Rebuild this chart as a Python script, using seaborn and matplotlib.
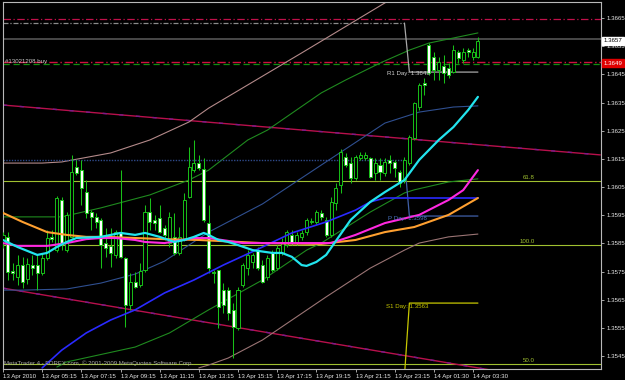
import numpy as np
import pandas as pd
import matplotlib
matplotlib.use("Agg")
import matplotlib.pyplot as plt
import seaborn as sns
from matplotlib.transforms import blended_transform_factory

# ---------------- data (EURUSD M15, 13-14 Apr 2010) ----------------
opens = [1.35851, 1.35873, 1.35752, 1.35731, 1.35773, 1.35724, 1.35773, 1.35773, 1.35745, 1.35798,
         1.35873, 1.35826, 1.36004, 1.35826, 1.35873, 1.36121, 1.36110, 1.36032, 1.35961, 1.35944,
         1.35933, 1.35851, 1.35841, 1.35809, 1.35890, 1.35798, 1.35631, 1.35713, 1.35702, 1.35755,
         1.35961, 1.35933, 1.35940, 1.35905, 1.35851, 1.35873, 1.35816, 1.35862, 1.36015, 1.36110,
         1.36135, 1.36114, 1.35922, 1.35748, 1.35755, 1.35684, 1.35684, 1.35614, 1.35549, 1.35702,
         1.35763, 1.35784, 1.35826, 1.35773, 1.35731, 1.35816, 1.35763, 1.35816, 1.35844, 1.35880,
         1.35851, 1.35873, 1.35890, 1.35926, 1.35926, 1.35958, 1.35933, 1.35880, 1.35993, 1.36057,
         1.36157, 1.36135, 1.36082, 1.36153, 1.36153, 1.36153, 1.36100, 1.36128, 1.36100, 1.36146,
         1.36139, 1.36103, 1.36075, 1.36135, 1.36224, 1.36334, 1.36419, 1.36554, 1.36512, 1.36465,
         1.36480, 1.36473, 1.36458, 1.36529, 1.36501, 1.36536, 1.36512, 1.36512]
highs = [1.35890, 1.35890, 1.35780, 1.35809, 1.35802, 1.35798, 1.35809, 1.35809, 1.35816, 1.35897,
         1.35897, 1.36018, 1.36015, 1.35961, 1.36164, 1.36146, 1.36146, 1.36075, 1.35969, 1.35958,
         1.35940, 1.35905, 1.35905, 1.35897, 1.36110, 1.35802, 1.35745, 1.35748, 1.35780, 1.35986,
         1.36011, 1.35951, 1.35986, 1.35915, 1.35961, 1.35958, 1.35908, 1.36029, 1.36192, 1.36217,
         1.36164, 1.36153, 1.35986, 1.35755, 1.35755, 1.35710, 1.35695, 1.35638, 1.35695, 1.35780,
         1.35826, 1.35816, 1.35837, 1.35791, 1.35809, 1.35826, 1.35844, 1.35869, 1.35897, 1.35897,
         1.35890, 1.35897, 1.35940, 1.35940, 1.35969, 1.35969, 1.35944, 1.36015, 1.36064, 1.36185,
         1.36171, 1.36157, 1.36164, 1.36174, 1.36174, 1.36157, 1.36153, 1.36153, 1.36153, 1.36164,
         1.36146, 1.36110, 1.36157, 1.36235, 1.36352, 1.36419, 1.36437, 1.36561, 1.36529, 1.36512,
         1.36519, 1.36490, 1.36554, 1.36536, 1.36544, 1.36544, 1.36544, 1.36583]
lows = [1.35834, 1.35720, 1.35720, 1.35702, 1.35692, 1.35706, 1.35738, 1.35684, 1.35738, 1.35791,
        1.35855, 1.35819, 1.35826, 1.35819, 1.35869, 1.36093, 1.35986, 1.35940, 1.35897, 1.35905,
        1.35763, 1.35802, 1.35766, 1.35798, 1.35798, 1.35553, 1.35614, 1.35692, 1.35695, 1.35748,
        1.35897, 1.35897, 1.35887, 1.35862, 1.35837, 1.35809, 1.35809, 1.35858, 1.36011, 1.36103,
        1.36110, 1.35926, 1.35745, 1.35710, 1.35549, 1.35603, 1.35578, 1.35443, 1.35542, 1.35695,
        1.35738, 1.35763, 1.35755, 1.35710, 1.35720, 1.35748, 1.35755, 1.35809, 1.35837, 1.35844,
        1.35844, 1.35862, 1.35880, 1.35919, 1.35919, 1.35933, 1.35873, 1.35873, 1.35969, 1.36029,
        1.36121, 1.36064, 1.36075, 1.36146, 1.36146, 1.36082, 1.36075, 1.36075, 1.36089, 1.36100,
        1.36086, 1.36050, 1.36064, 1.36128, 1.36217, 1.36323, 1.36377, 1.36448, 1.36430, 1.36430,
        1.36419, 1.36437, 1.36455, 1.36490, 1.36490, 1.36512, 1.36501, 1.36508]
closes = [1.35880, 1.35748, 1.35745, 1.35773, 1.35713, 1.35777, 1.35763, 1.35745, 1.35798, 1.35869,
          1.35865, 1.36011, 1.35851, 1.35951, 1.36103, 1.36100, 1.36047, 1.35958, 1.35944, 1.35926,
          1.35844, 1.35834, 1.35816, 1.35890, 1.35802, 1.35631, 1.35713, 1.35695, 1.35752, 1.35961,
          1.35926, 1.35922, 1.35890, 1.35880, 1.35944, 1.35816, 1.35873, 1.36004, 1.36121, 1.36135,
          1.36118, 1.35933, 1.35763, 1.35745, 1.35624, 1.35631, 1.35603, 1.35553, 1.35684, 1.35773,
          1.35809, 1.35809, 1.35763, 1.35713, 1.35798, 1.35755, 1.35834, 1.35855, 1.35890, 1.35855,
          1.35880, 1.35887, 1.35933, 1.35930, 1.35961, 1.35944, 1.35880, 1.35997, 1.36047, 1.36174,
          1.36128, 1.36082, 1.36157, 1.36164, 1.36164, 1.36086, 1.36135, 1.36103, 1.36139, 1.36135,
          1.36118, 1.36064, 1.36146, 1.36228, 1.36348, 1.36412, 1.36412, 1.36455, 1.36465, 1.36494,
          1.36455, 1.36448, 1.36536, 1.36508, 1.36529, 1.36529, 1.36529, 1.36570]

# indicator readings: (bar index, price)
cyan_bar = [0, 3, 7, 9, 11, 13, 15, 20, 24, 27, 29, 32, 35, 37, 39, 41, 42, 44, 46, 48, 51, 55, 57, 59,
            61, 62, 64, 66, 67, 71, 75, 78, 82, 85, 89, 92, 95, 97]
cyan_val = [1.35862, 1.35837, 1.35809, 1.35816, 1.35837, 1.35855, 1.35869, 1.35873, 1.35887, 1.35880,
            1.35887, 1.35873, 1.35855, 1.35862, 1.35873, 1.35887, 1.35880, 1.35862, 1.35855, 1.35844,
            1.35826, 1.35816, 1.35816, 1.35802, 1.35773, 1.35770, 1.35784, 1.35809, 1.35834, 1.35933,
            1.35997, 1.36032, 1.36075, 1.36146, 1.36217, 1.36263, 1.36323, 1.36370]
mag_bar = [0, 3, 9, 13, 17, 20, 23, 27, 29, 33, 39, 42, 49, 59, 67, 72, 78, 85, 91, 94, 97]
mag_val = [1.35851, 1.35841, 1.35841, 1.35851, 1.35865, 1.35869, 1.35869, 1.35862, 1.35855, 1.35851,
           1.35869, 1.35869, 1.35851, 1.35851, 1.35851, 1.35880, 1.35922, 1.35951, 1.36004, 1.36039, 1.36110]
orange_bar = [0, 4, 9, 13, 17, 21, 27, 33, 40, 53, 65, 72, 78, 84, 91, 97]
orange_val = [1.35958, 1.35926, 1.35890, 1.35880, 1.35873, 1.35873, 1.35869, 1.35865, 1.35862, 1.35851,
              1.35848, 1.35862, 1.35890, 1.35908, 1.35951, 1.36011]
blue_bar = [8, 12, 17, 22, 27, 33, 39, 45, 53, 59, 66, 72, 75, 78, 85, 97]
blue_val = [1.35408, 1.35471, 1.35532, 1.35578, 1.35614, 1.35674, 1.35720, 1.35773, 1.35837, 1.35887,
            1.35926, 1.35968, 1.35997, 1.36011, 1.36011, 1.36011]
bb_up_bar = [0, 12, 20, 30, 38, 42, 50, 54, 65, 70, 77, 83, 87, 97]
bb_up_val = [1.35944, 1.35944, 1.35976, 1.36022, 1.36075, 1.36110, 1.36217, 1.36252, 1.36384, 1.36430,
             1.36490, 1.36536, 1.36561, 1.36597]
bb_lo_bar = [11, 13, 27, 34, 42, 53, 62, 65, 75, 82, 84, 91, 97]
bb_lo_val = [1.35411, 1.35429, 1.35482, 1.35532, 1.35614, 1.35720, 1.35826, 1.35851, 1.35961, 1.36029,
             1.36040, 1.36068, 1.36079]
bb_mid_bar = [0, 4, 13, 20, 27, 33, 42, 53, 65, 78, 85, 92, 97]
bb_mid_val = [1.35684, 1.35684, 1.35688, 1.35709, 1.35741, 1.35787, 1.35890, 1.35990, 1.36128, 1.36277,
              1.36316, 1.36334, 1.36338]
wide_up_bar = [0, 8, 12, 22, 30, 38, 42, 61, 79, 85, 97]
wide_up_val = [1.36135, 1.36135, 1.36139, 1.36171, 1.36217, 1.36281, 1.36330, 1.36526, 1.36714, 1.36781, 1.36792]
wide_lo_bar = [40, 42, 46, 53, 66, 75, 82, 85, 91, 97]
wide_lo_val = [1.35408, 1.35418, 1.35443, 1.35507, 1.35660, 1.35762, 1.35826, 1.35851, 1.35873, 1.35883]

trend_bar = [0, 122]
trend1_val = [1.36341, 1.36164]
trend2_val = [1.35691, 1.35335]

# pivot levels (previous day / current day), day change at bar 82
day_bars = [0, 82, 83, 97]
r1_levels = [1.36632, 1.36632, 1.36458, 1.36458]
p_levels = [1.36146, 1.36146, 1.35947, 1.35947]
s1_levels = [1.35380, 1.35380, 1.35638, 1.35638]

fib_names = ["61.8", "100.0", "50.0"]
fib_levels = [1.36071, 1.35844, 1.35422]

order_level = 1.36494
tp_level = 1.36487
stop_level = 1.36646
high_level = 1.36575

x_tick_bars = [0, 8, 16, 24, 32, 40, 48, 56, 64, 72, 80, 88, 96]
x_tick_labels = ["13 Apr 2010", "13 Apr 05:15", "13 Apr 07:15", "13 Apr 09:15", "13 Apr 11:15",
                 "13 Apr 13:15", "13 Apr 15:15", "13 Apr 17:15", "13 Apr 19:15", "13 Apr 21:15",
                 "13 Apr 23:15", "14 Apr 01:30", "14 Apr 03:30"]
y_ticks = [1.3545, 1.3555, 1.3565, 1.3575, 1.3585, 1.3595, 1.3605, 1.3615, 1.3625, 1.3635,
           1.3645, 1.3655, 1.3665]

# ---------------- drawing ----------------
sns.set_style("dark")
plt.rcParams["font.family"] = ["Liberation Sans", "DejaVu Sans"]

fig = plt.figure(figsize=(6.25, 3.8), dpi=100, facecolor="black")
ax = fig.add_axes([3 / 625, 11 / 380, 598 / 625, 367 / 380])
ax.set_facecolor("black")

# horizontal level lines
ax.axhline(stop_level, color="#c0104a", lw=0.9, ls=(0, (6, 2, 1, 2)), zorder=1)
ax.axhline(high_level, color="#555555", lw=1.2, zorder=1)
ax.axhline(order_level, color="#d01040", lw=1.0, ls=(0, (6, 2, 1, 2)), zorder=1)
ax.axhline(tp_level, color="#109010", lw=0.9, ls=(0, (5, 3)), zorder=1)
fib_color = "#a0c030"
for name, lev in zip(fib_names, fib_levels):
    ax.axhline(lev, color=fib_color, lw=0.8, zorder=1)
    ax.text(108.6, lev + 0.00003, name, color=fib_color, fontsize=4.4, ha="right", va="bottom", zorder=6)

# trend lines
sns.lineplot(x=trend_bar, y=trend1_val, ax=ax, color="#b8104c", lw=1.0, zorder=1)
ax.plot(trend_bar, trend1_val, color="#7a1a8a", lw=1.0, ls=(0, (3, 9)), zorder=1)
sns.lineplot(x=trend_bar, y=trend2_val, ax=ax, color="#b8104c", lw=1.0, zorder=1)
ax.plot(trend_bar, trend2_val, color="#7a1a8a", lw=1.0, ls=(0, (3, 9)), zorder=1)

# bands
sns.lineplot(x=wide_up_bar, y=wide_up_val, ax=ax, color="#b48a8a", lw=0.8, zorder=2)
sns.lineplot(x=wide_lo_bar, y=wide_lo_val, ax=ax, color="#9a7474", lw=0.8, zorder=2)
sns.lineplot(x=bb_up_bar, y=bb_up_val, ax=ax, color="#1f8a1f", lw=0.8, zorder=2)
sns.lineplot(x=bb_lo_bar, y=bb_lo_val, ax=ax, color="#1f8a1f", lw=0.8, zorder=2)
sns.lineplot(x=bb_mid_bar, y=bb_mid_val, ax=ax, color="#2f4f90", lw=0.8, zorder=2)

# pivots
ax.plot(day_bars[:2], r1_levels[:2], color="#8c8c8c", lw=0.9, ls=(0, (4, 1.5, 1, 1.5)), zorder=2)
ax.plot(day_bars[1:], r1_levels[1:], color="#a8a8a8", lw=0.9, zorder=2)
ax.plot(day_bars[:2], p_levels[:2], color="#2f4a8a", lw=1.0, ls=(0, (1, 1)), zorder=2)
ax.plot(day_bars[1:], p_levels[1:], color="#4060a8", lw=0.9, zorder=2)
ax.plot(day_bars[1:], s1_levels[1:], color="#c8c800", lw=0.9, zorder=2)
ax.text(78.5, r1_levels[-1] - 0.00005, "R1 Day: 1.3648", color="#d0d0d0", fontsize=4.4,
        ha="left", va="center", zorder=6)
ax.text(78.7, p_levels[-1] - 0.00007, "P Day: 1.3598", color="#4a74c0", fontsize=4.4,
        ha="left", va="center", zorder=6)
ax.text(78.3, s1_levels[-1] - 0.00013, "S1 Day: 1.3563", color="#c8c800", fontsize=4.4,
        ha="left", va="center", zorder=6)

# candles
bars = np.arange(len(opens))
o = np.array(opens); c = np.array(closes); h = np.array(highs); l = np.array(lows)
ax.vlines(bars, l, h, color="#18c018", lw=0.75, zorder=3)
bull = c >= o
body_lo = np.minimum(o, c)
body_h = np.maximum(np.abs(c - o), 0.000025)
ax.bar(bars[bull], body_h[bull], bottom=body_lo[bull], width=0.62, color="black",
       edgecolor="#18c018", linewidth=0.7, zorder=3)
ax.bar(bars[~bull], body_h[~bull], bottom=body_lo[~bull], width=0.62, color="white",
       edgecolor="#18c018", linewidth=0.7, zorder=3)

# moving averages
sns.lineplot(x=blue_bar, y=blue_val, ax=ax, color="#2a2aff", lw=1.2, zorder=4)
sns.lineplot(x=orange_bar, y=orange_val, ax=ax, color="#ffa030", lw=1.5, zorder=4)
sns.lineplot(x=mag_bar, y=mag_val, ax=ax, color="#ff28e0", lw=1.5, zorder=4)
sns.lineplot(x=cyan_bar, y=cyan_val, ax=ax, color="#22e4ee", lw=1.6, zorder=5)

# annotations
ax.text(0.5, order_level, "#13021208 buy", color="#c8c8c8", fontsize=4.4, ha="left", va="center", zorder=6)
ax.text(0.2, 1.35425, "MetaTrader 4 - FOREX.com, \u00a9 2001-2009 MetaQuotes Software Corp.",
        color="#a8a8a8", fontsize=4.3, ha="left", va="center", zorder=6)

# axes
ax.set_xlim(0.1, 122.14)
ax.set_ylim(1.35404, 1.367068)
ax.yaxis.tick_right()
ax.set_yticks(y_ticks)
ax.set_yticklabels([f"{v:.4f}" for v in y_ticks])
ax.set_xticks(x_tick_bars)
ax.set_xticklabels(x_tick_labels, ha="left")
ax.tick_params(axis="y", colors="#c0c0c0", labelcolor="#e8e8e8", labelsize=4.4, length=2.5,
               width=0.6, pad=1.5, right=True, left=False)
ax.tick_params(axis="x", colors="#c0c0c0", labelcolor="#e8e8e8", labelsize=4.4, length=2.5,
               width=0.6, pad=1.0, bottom=True)
ax.set_xlabel("")
ax.set_ylabel("")
ax.grid(False)
for s in ax.spines.values():
    s.set_color("#b8b8b8")
    s.set_linewidth(0.8)
    s.set_visible(True)

# price boxes on the axis
tr = blended_transform_factory(ax.transAxes, ax.transData)
ax.text(1.004, 1.3657, "1.3657", transform=tr, fontsize=4.4, color="black", ha="left", va="center",
        bbox=dict(boxstyle="square,pad=0.25", fc="white", ec="white"), clip_on=False, zorder=7)
ax.text(1.004, 1.3649, "1.3649", transform=tr, fontsize=4.4, color="white", ha="left", va="center",
        bbox=dict(boxstyle="square,pad=0.25", fc="#e00000", ec="#e00000"), clip_on=False, zorder=7)

fig.savefig("out.png", dpi=100, facecolor="black")
